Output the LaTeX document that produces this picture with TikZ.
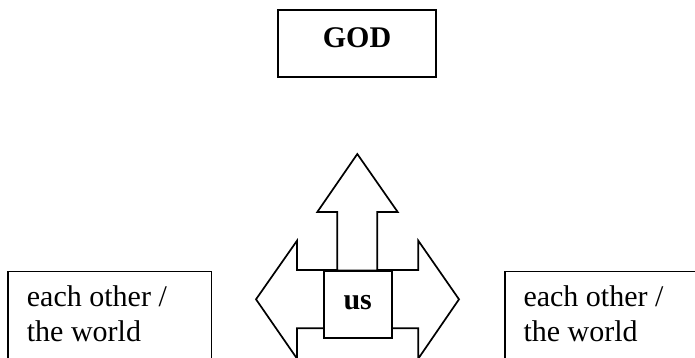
\documentclass[tikz,border=0pt]{standalone}
\usepackage{fontspec}
\setmainfont{Liberation Serif}
\begin{document}
\begin{tikzpicture}[x=1pt,y=-1pt,
  boxst/.style={draw=black,line width=1.7pt,fill=white,inner sep=0pt},
  shapest/.style={draw=black,line width=1.7pt,fill=white,line join=miter},
  txt/.style={font=\fontsize{30}{35}\selectfont,align=left,inner sep=0pt},
  bold/.style={font=\fontsize{30}{35}\selectfont\bfseries}]
\useasboundingbox (0,0) rectangle (695,358);
\clip (0,0) rectangle (695,358);
% GOD box
\node[boxst,bold,minimum width=157.4pt,minimum height=67.3pt,text height=25.5pt,text depth=17.5pt] (god) at (357,43.7) {GOD};
% side boxes
\node[boxst,anchor=north west,minimum width=203.4pt,minimum height=130pt] (lbox) at (7.3,270.7) {};
\node[boxst,anchor=north west,minimum width=250pt,minimum height=130pt] (rbox) at (504,270.5) {};
\node[txt,anchor=base west] (ltxt) at ([xshift=19.4pt,yshift=-71pt]lbox.north west) {each other /\\the world};
\node[txt,anchor=base west] (rtxt) at ([xshift=19.3pt,yshift=-71.2pt]rbox.north west) {each other /\\the world};
% horizontal double arrow
\draw[shapest] (297,270) -- (297,240.7) -- (256,299.3) -- (297,358.6) -- (297,328.3)
  -- (418.3,328.3) -- (418.3,358.6) -- (459,299.3) -- (418.3,240.7) -- (418.3,270) -- cycle;
% up arrow
\draw[shapest] (337.3,270.5) -- (337.3,212) -- (317.3,212) -- (357.3,154) -- (397.7,212)
  -- (377.3,212) -- (377.3,270.5) -- cycle;
% us box
\node[boxst,bold,minimum width=68pt,minimum height=67pt,text height=20pt,text depth=9.8pt] (us) at (357.7,304.2) {us};
\end{tikzpicture}
\end{document}
